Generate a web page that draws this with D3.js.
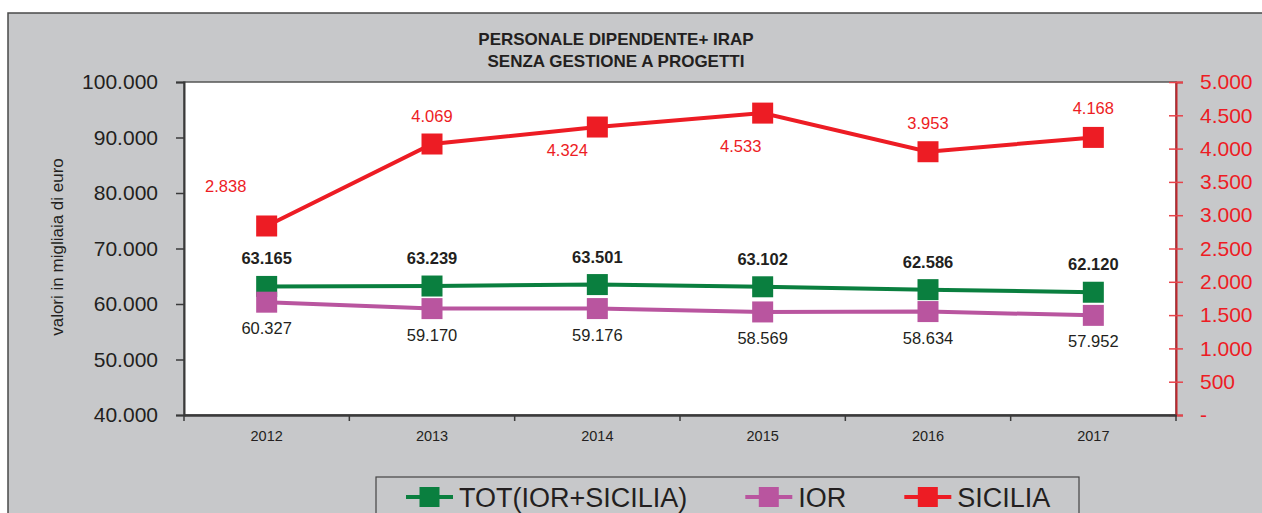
<!DOCTYPE html>
<html>
<head>
<meta charset="utf-8">
<script src="https://cdn.jsdelivr.net/npm/d3@7"></script>
<style>
  body { margin: 0; background: #fff; }
  text { font-family: "Liberation Sans", Arial, sans-serif; }
</style>
</head>
<body>
<div id="target"></div>
<script>
// chart values
let years = ["2012", "2013", "2014", "2015", "2016", "2017"]
let totValues = [63165, 63239, 63501, 63102, 62586, 62120]
let iorValues = [60327, 59170, 59176, 58569, 58634, 57952]
let sicValues = [2838, 4069, 4324, 4533, 3953, 4168]
let leftTicks = [40000, 50000, 60000, 70000, 80000, 90000, 100000]
let rightTicks = [0, 500, 1000, 1500, 2000, 2500, 3000, 3500, 4000, 4500, 5000]
let titleLines = ["PERSONALE DIPENDENTE+ IRAP", "SENZA GESTIONE A PROGETTI"]

// manual label placement for the SICILIA points (as in the original)
let sicLabelDx = [-41, 0, -30, -22, 0, 0]
let sicLabelDy = [-40, -28, 23, 33, -29, -29]

let width = 1262, height = 513
let plot = { left: 184, top: 82, right: 1176, bottom: 415 }
let gray = "#c7c8ca", ink = "#231f20"

let it = d3.formatLocale({ decimal: ",", thousands: ".", grouping: [3], currency: ["€", ""] })
let fmt = it.format(",.0f")

let svg = d3.select("#target").append("svg")
    .attr("width", width).attr("height", height)

// outer chart area
svg.append("rect").attr("x", 8).attr("y", 13)
    .attr("width", width + 20).attr("height", height + 20)
    .attr("fill", gray).attr("stroke", "#4a4a4a").attr("stroke-width", 1.5)

// plot area
svg.append("rect").attr("x", plot.left).attr("y", plot.top)
    .attr("width", plot.right - plot.left).attr("height", plot.bottom - plot.top)
    .attr("fill", "#fff").attr("stroke", "#555").attr("stroke-width", 1.5)

let x = d3.scaleBand().domain(years).range([plot.left, plot.right])
let yL = d3.scaleLinear().domain([40000, 100000]).range([plot.bottom, plot.top])
let yR = d3.scaleLinear().domain([0, 5000]).range([plot.bottom, plot.top])
let cx = d => x(d) + x.bandwidth() / 2

// title
svg.append("text").attr("x", 616).attr("text-anchor", "middle")
    .attr("font-size", 17).attr("font-weight", "bold").attr("fill", ink)
    .selectAll("tspan").data(titleLines).enter().append("tspan")
    .attr("x", 616).attr("y", (d, i) => 45 + i * 22).text(d => d)

// left axis
let gL = svg.append("g").attr("transform", `translate(${plot.left},0)`)
    .call(d3.axisLeft(yL).tickValues(leftTicks).tickSize(8).tickPadding(18).tickFormat(fmt))
gL.select(".domain").attr("stroke", "#3a3a3a").attr("stroke-width", 2)
gL.selectAll(".tick line").attr("stroke", "#3a3a3a").attr("stroke-width", 1.5)
gL.selectAll(".tick text").attr("font-size", 21).attr("fill", ink)
    .attr("font-family", "Liberation Sans, Arial, sans-serif")

// right axis
let gR = svg.append("g").attr("transform", `translate(${plot.right},0)`)
    .call(d3.axisRight(yR).tickValues(rightTicks).tickSize(7).tickPadding(17)
        .tickFormat(d => d === 0 ? "-" : fmt(d)))
gR.select(".domain").attr("stroke", "#c1272d").attr("stroke-width", 2)
gR.selectAll(".tick line").attr("x1", -7).attr("stroke", "#e8434a").attr("stroke-width", 1.5)
gR.selectAll(".tick text").attr("font-size", 21).attr("fill", "#ed1c24")
    .attr("font-family", "Liberation Sans, Arial, sans-serif")

// bottom axis
let gB = svg.append("g").attr("transform", `translate(0,${plot.bottom})`)
    .call(d3.axisBottom(x).tickSize(0).tickPadding(16))
gB.select(".domain").attr("stroke", "#3a3a3a").attr("stroke-width", 2.5)
gB.selectAll(".tick text").attr("font-size", 14.5).attr("fill", ink)
    .attr("font-family", "Liberation Sans, Arial, sans-serif")
gB.selectAll("line.sep").data(d3.range(years.length + 1)).enter().append("line")
    .attr("class", "sep")
    .attr("x1", i => plot.left + i * x.bandwidth()).attr("x2", i => plot.left + i * x.bandwidth())
    .attr("y1", 0).attr("y2", 6).attr("stroke", "#3a3a3a").attr("stroke-width", 1.5)

// y axis title
svg.append("text")
    .attr("transform", `translate(57,247) rotate(-90)`)
    .attr("text-anchor", "middle").attr("dominant-baseline", "central")
    .attr("font-size", 17).attr("fill", ink)
    .text("valori in migliaia di euro")

let series = [
    { name: "TOT(IOR+SICILIA)", values: totValues, y: yL, color: "#0a7f3f" },
    { name: "IOR", values: iorValues, y: yL, color: "#b9559f" },
    { name: "SICILIA", values: sicValues, y: yR, color: "#ed1c24" }
]

for (let s of series) {
    let pts = years.map((yr, i) => ({ yr: yr, v: s.values[i], i: i }))
    let line = d3.line().x(d => cx(d.yr)).y(d => s.y(d.v))
    svg.append("path").datum(pts).attr("d", line)
        .attr("fill", "none").attr("stroke", s.color).attr("stroke-width", 4)
    svg.append("g").selectAll("rect").data(pts).enter().append("rect")
        .attr("x", d => cx(d.yr) - 10.5).attr("y", d => s.y(d.v) - 10.5)
        .attr("width", 21).attr("height", 21).attr("fill", s.color)
}

// data labels
let labelGroup = svg.append("g").attr("text-anchor", "middle")
    .attr("dominant-baseline", "central").attr("font-size", 16.5)
labelGroup.selectAll("text.tot").data(totValues).enter().append("text")
    .attr("x", (d, i) => cx(years[i])).attr("y", d => yL(d) - 28)
    .attr("font-weight", "bold").attr("fill", ink).text(fmt)
labelGroup.selectAll("text.ior").data(iorValues).enter().append("text")
    .attr("x", (d, i) => cx(years[i])).attr("y", d => yL(d) + 26)
    .attr("fill", ink).text(fmt)
labelGroup.selectAll("text.sic").data(sicValues).enter().append("text")
    .attr("x", (d, i) => cx(years[i]) + sicLabelDx[i]).attr("y", (d, i) => yR(d) + sicLabelDy[i])
    .attr("fill", "#ed1c24").text(fmt)

// legend (box runs off the bottom, as in the original)
svg.append("rect").attr("x", 376).attr("y", 477).attr("width", 703).attr("height", 80)
    .attr("fill", gray).attr("stroke", "#444").attr("stroke-width", 1.2)
let lx = 406, ly = 497
for (let s of series) {
    let g = svg.append("g").attr("transform", `translate(${lx},${ly})`)
    g.append("line").attr("x1", 0).attr("x2", 47).attr("y1", 0).attr("y2", 0)
        .attr("stroke", s.color).attr("stroke-width", 4)
    g.append("rect").attr("x", 13.5).attr("y", -10).attr("width", 20).attr("height", 20)
        .attr("fill", s.color)
    let t = g.append("text").attr("x", 53).attr("y", 10).attr("font-size", 27)
        .attr("fill", ink).text(s.name)
    lx += 53 + t.node().getComputedTextLength() + 58
}
</script>
</body>
</html>
